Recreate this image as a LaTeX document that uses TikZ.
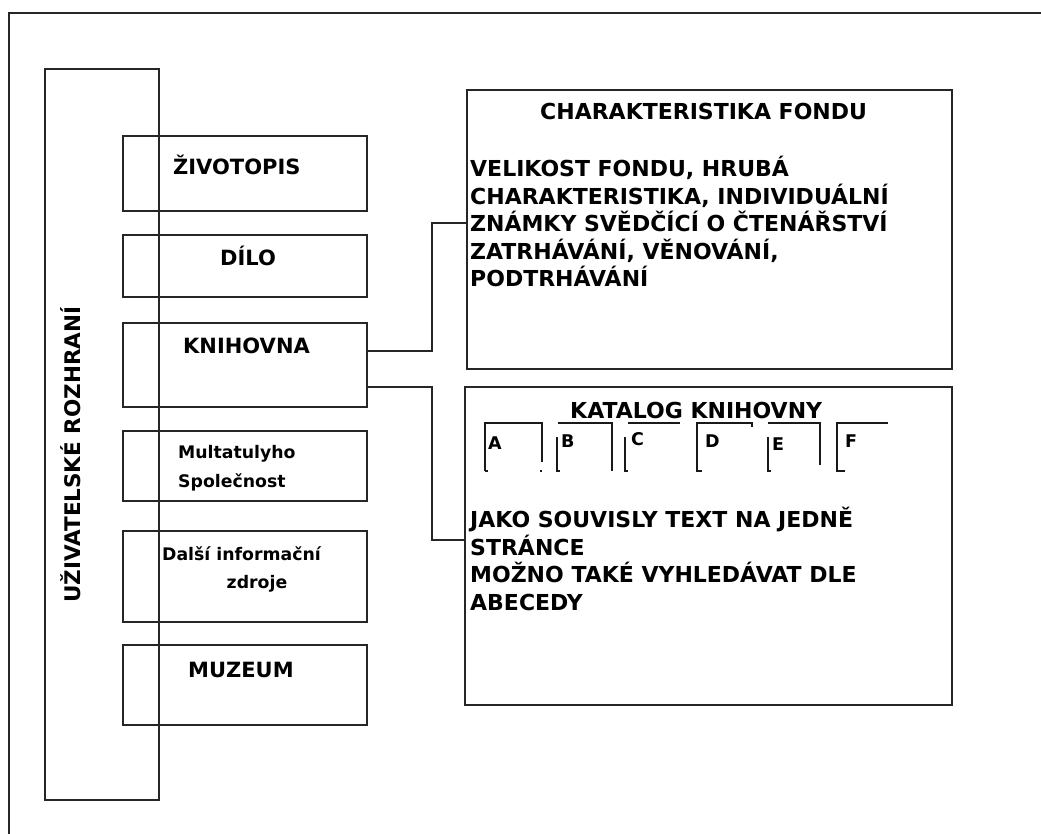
\documentclass[tikz,border=0pt]{standalone}
\usepackage{fontspec}
\setmainfont{DejaVu Sans}
\begin{document}
\begin{tikzpicture}[x=1pt,y=-1pt,
  ln/.style={line width=1.3pt,black!85},
  tab/.style={line width=1.2pt,black!90},
  bx/.style={draw=black!85,line width=1.3pt},
  captxt/.style={inner sep=0pt,font=\bfseries\fontsize{22}{27.5}\selectfont},
  labtxt/.style={inner sep=0pt,font=\bfseries\fontsize{21}{22}\selectfont},
  vtxt/.style={inner sep=0pt,font=\bfseries\fontsize{21.5}{22}\selectfont},
  mixtxt/.style={inner sep=0pt,font=\bfseries\fontsize{17.3}{22}\selectfont},
  lettxt/.style={inner sep=0pt,font=\bfseries\fontsize{17.5}{18}\selectfont,anchor=base west}]
\useasboundingbox (0,0) rectangle (1041,834);
% outer frame (clipped at right and bottom)
\draw[ln] (9,840) -- (9,13) -- (1050,13);
% tall interface bar
\draw[bx] (45,69) rectangle (159,800);
\node[vtxt,rotate=90,anchor=base west] (ui) at (80,603) {UŽIVATELSKÉ ROZHRANÍ};
% side boxes
\draw[bx] (123,136) rectangle (367,211);
\draw[bx] (123,235) rectangle (367,297);
\draw[bx] (123,323) rectangle (367,407); \coordinate (knA) at (367,351); \coordinate (knB) at (367,387);
\draw[bx] (123,431) rectangle (367,501);
\draw[bx] (123,531) rectangle (367,622);
\draw[bx] (123,645) rectangle (367,725);
\draw[ln] (45,69) -- (45,800);
\draw[ln] (159,69) -- (159,800);
\node[labtxt,anchor=base west] (t1) at (173,175) {ŽIVOTOPIS};
\node[labtxt,anchor=base] (t2) at (248,266) {DÍLO};
\node[labtxt,anchor=base west] (t3) at (183,353) {KNIHOVNA};
\node[mixtxt,anchor=base west] (t4a) at (178,458) {Multatulyho};
\node[mixtxt,anchor=base west] (t4b) at (178,487) {Společnost};
\node[mixtxt,anchor=base west] (t5a) at (162,560) {Další informační};
\node[mixtxt,anchor=base] (t5b) at (257,588) {zdroje};
\node[labtxt,anchor=base west] (t6) at (188,677) {MUZEUM};
% right boxes
\draw[bx] (467,90) rectangle (952,369);
\coordinate (chA) at (467,223);
\draw[bx] (465,387) rectangle (952,705);
\coordinate (kaA) at (465,540);
\node[captxt,anchor=base west] (cht) at (540,120) {CHARAKTERISTIKA FONDU};
\node[captxt,anchor=base west,align=left] (chb) at (470,287) {VELIKOST FONDU, HRUBÁ\\CHARAKTERISTIKA, INDIVIDUÁLNÍ\\ZNÁMKY SVĚDČÍCÍ O ČTENÁŘSTVÍ\\ZATRHÁVÁNÍ, VĚNOVÁNÍ,\\PODTRHÁVÁNÍ};
\node[captxt,anchor=base west] (kat) at (570,418) {KATALOG KNIHOVNY};
\node[captxt,anchor=base west,align=left] (kab) at (470,610) {JAKO SOUVISLY TEXT NA JEDNĚ\\STRÁNCE\\MOŽNO TAKÉ VYHLEDÁVAT DLE\\ABECEDY};
% letter tabs
\draw[tab] (485,471) -- (485,423) -- (542,423) -- (542,462);
\draw[tab] (485,471) -- (488,471) (540,471) -- (542,471);
\node[lettxt] (la) at (488,449) {A};
\draw[tab] (560,471) -- (557,471) -- (557,437) (558,423) -- (612,423) -- (612,471);
\node[lettxt] (lb) at (561,447) {B};
\draw[tab] (628,471) -- (625,471) -- (625,437) (628,423) -- (680,423);
\node[lettxt] (lc) at (631,445) {C};
\draw[tab] (702,471) -- (697,471) -- (697,423) -- (752,423) -- (752,427);
\node[lettxt] (ld) at (705,447) {D};
\draw[tab] (771,471) -- (768,471) -- (768,437) (768,423) -- (820,423) -- (820,465);
\node[lettxt] (le) at (772,450) {E};
\draw[tab] (845,471) -- (837,471) -- (837,423) -- (888,423);
\node[lettxt] (lf) at (845,447) {F};
% connectors
\draw[ln] (knA) -- (432,351) -- (432,223) -- (chA);
\draw[ln] (knB) -- (432,387) -- (432,540) -- (kaA);
\end{tikzpicture}
\end{document}
